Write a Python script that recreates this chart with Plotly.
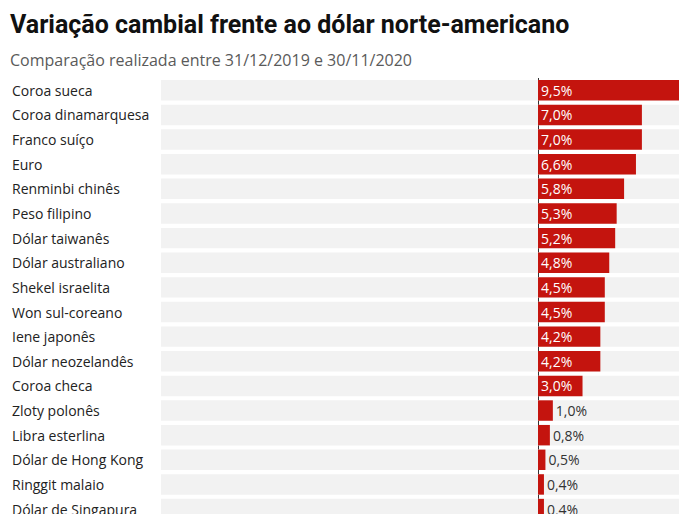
import plotly.graph_objects as go

categories = ["Coroa sueca", "Coroa dinamarquesa", "Franco suíço", "Euro", "Renminbi chinês",
              "Peso filipino", "Dólar taiwanês", "Dólar australiano", "Shekel israelita",
              "Won sul-coreano", "Iene japonês", "Dólar neozelandês", "Coroa checa",
              "Zloty polonês", "Libra esterlina", "Dólar de Hong Kong", "Ringgit malaio",
              "Dólar de Singapura"]
values = [9.5, 7.0, 7.0, 6.6, 5.8, 5.3, 5.2, 4.8, 4.5, 4.5, 4.2, 4.2, 3.0, 1.0, 0.8, 0.5, 0.4, 0.4]
band_min = -25.4
band_max = 9.5
x_min = -35.51

labels = [f"{v:.1f}".replace(".", ",") + "%" for v in values]
positions = ["inside" if v >= 2 else "outside" for v in values]

# page body has an 8px margin; the figure is sized to fill the rest of the window
W, H = 682, 506
PH = 436
PW = 668
fig = go.Figure()
fig.add_trace(go.Bar(
    y=categories, x=[band_max - band_min] * len(categories), base=[band_min] * len(categories),
    orientation="h", marker=dict(color="#f2f2f2", line=dict(width=0)), width=0.83,
    hoverinfo="skip", showlegend=False))
fig.add_trace(go.Bar(
    y=categories, x=values, orientation="h",
    marker=dict(color="#c4140e", line=dict(width=0)), width=0.83,
    text=labels, textposition=positions, insidetextanchor="start",
    insidetextfont=dict(family="Open Sans", size=14, color="white"),
    outsidetextfont=dict(family="Open Sans", size=14, color="#333333"),
    cliponaxis=False, constraintext="none", showlegend=False))

for c in categories:
    fig.add_annotation(x=-1.5 / PW, xref="paper", y=c, yref="y", text=c, showarrow=False,
                       xanchor="left", yanchor="middle",
                       font=dict(family="Open Sans", size=14, color="#222222"))

fig.add_annotation(x=-3 / PW, xref="paper", y=(H - 17) / PH, yref="paper",
                   text="<b>Variação cambial frente ao dólar norte-americano</b>",
                   showarrow=False, xanchor="left", yanchor="middle",
                   font=dict(family="Liberation Sans Narrow, Roboto", size=25, color="#111111"))
fig.add_annotation(x=-3 / PW, xref="paper", y=(H - 52) / PH, yref="paper",
                   text="Comparação realizada entre 31/12/2019 e 30/11/2020",
                   showarrow=False, xanchor="left", yanchor="middle",
                   font=dict(family="Open Sans", size=16, color="#5a5a5a"))

fig.update_layout(
    width=W, height=H, barmode="overlay",
    margin=dict(l=3, r=11, t=70, b=0),
    paper_bgcolor="white", plot_bgcolor="white",
    xaxis=dict(range=[x_min, band_max], showgrid=False, showticklabels=False,
               zeroline=True, zerolinecolor="#333333", zerolinewidth=1, fixedrange=True),
    yaxis=dict(range=[17.2, -0.5], showgrid=False, showticklabels=False,
               zeroline=False, fixedrange=True),
)
fig.write_html("out.html")
